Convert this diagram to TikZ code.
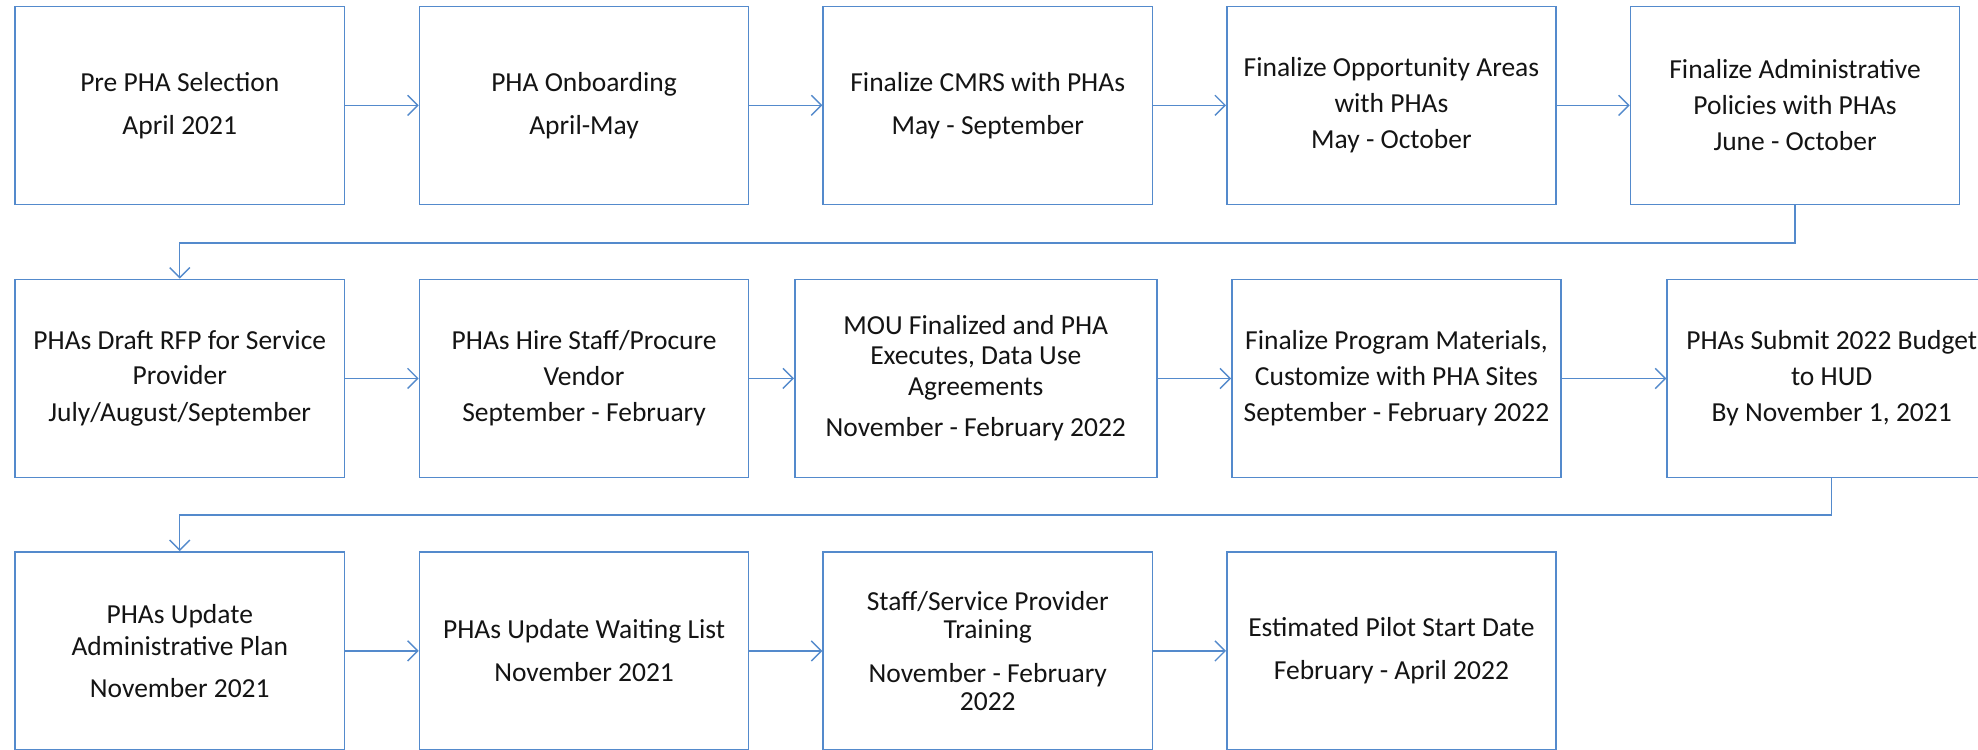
\documentclass[tikz,border=0pt]{standalone}
\usepackage{fontspec}
\setmainfont{Carlito}
\usetikzlibrary{arrows.meta}
\definecolor{boxblue}{RGB}{84,138,204}
\definecolor{txt}{RGB}{20,20,20}
\tikzset{
  stepbox/.style={draw=boxblue, line width=1.2pt, rectangle, minimum width=261pt, minimum height=157pt,
    align=center, text=txt, inner sep=0pt, font=\fontsize{21.8}{24}\selectfont},
  flow/.style={draw=boxblue, line width=1.1pt, -{Straight Barb[length=8pt,width=16pt,line width=1.1pt]}},
}
\begin{document}
\begin{tikzpicture}[x=1pt,y=-1pt]
\clip (0,0) rectangle (1568,594);
\fill[white] (0,0) rectangle (1568,594);
% row 1
\node[stepbox] (b1) at (142.5,83.5) {Pre PHA Selection\\[10pt]April 2021};
\node[stepbox] (b2) at (463,83.5) {PHA Onboarding\\[10pt]April-May};
\node[stepbox] (b3) at (783,83.5) {Finalize CMRS with PHAs\\[10pt]May - September};
\node[stepbox] (b4) at (1103,83.5) {Finalize Opportunity Areas\\[4pt]with PHAs\\[5pt]May - October};
\node[stepbox] (b5) at (1423,83.5) {Finalize Administrative\\[4pt]Policies with PHAs\\[5pt]June - October};
% row 2
\node[stepbox] (b6) at (142.5,300) {PHAs Draft RFP for Service\\[4pt]Provider\\[5pt]July/August/September};
\node[stepbox] (b7) at (463,300) {PHAs Hire Staff/Procure\\[4pt]Vendor\\[5pt]September - February};
\node[stepbox, minimum width=287pt] (b8) at (773.5,300) {MOU Finalized and PHA\\Executes, Data Use\\Agreements\\[9pt]November - February 2022};
\node[stepbox] (b9) at (1107,300) {Finalize Program Materials,\\[4pt]Customize with PHA Sites\\[5pt]September - February 2022};
\node[stepbox] (b10) at (1452,300) {PHAs Submit 2022 Budget\\[4pt]to HUD\\[5pt]By November 1, 2021};
% row 3
\node[stepbox] (b11) at (142.5,516) {PHAs Update\\[2pt]Administrative Plan\\[9pt]November 2021};
\node[stepbox] (b12) at (463,516) {PHAs Update Waiting List\\[10pt]November 2021};
\node[stepbox] (b13) at (783,516) {Staff/Service Provider\\[-2pt]Training\\[11pt]November - February\\[-2pt]2022};
\node[stepbox] (b14) at (1103,516) {Estimated Pilot Start Date\\[10pt]February - April 2022};
% connectors
\draw[flow] (b1) -- (b2);
\draw[flow] (b2) -- (b3);
\draw[flow] (b3) -- (b4);
\draw[flow] (b4) -- (b5);
\draw[flow] (b5.south) -- ++(0,30) -| (b6.north);
\draw[flow] (b6) -- (b7);
\draw[flow] (b7) -- (b8);
\draw[flow] (b8) -- (b9);
\draw[flow] (b9) -- (b10);
\draw[flow] (b10.south) -- ++(0,29) -| (b11.north);
\draw[flow] (b11) -- (b12);
\draw[flow] (b12) -- (b13);
\draw[flow] (b13) -- (b14);
\end{tikzpicture}
\end{document}
